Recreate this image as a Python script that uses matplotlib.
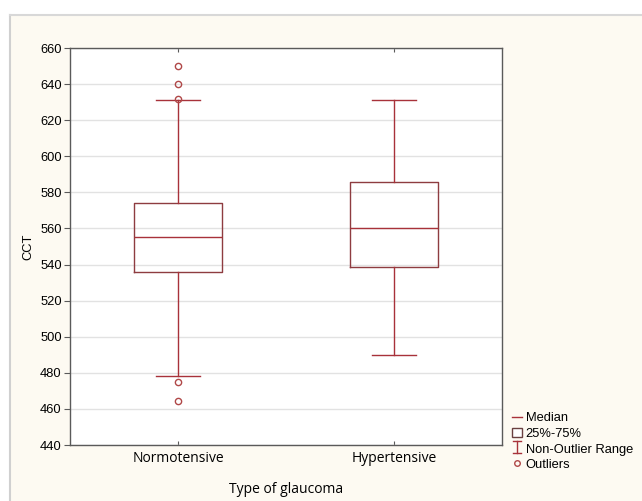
import matplotlib
matplotlib.use("Agg")
import matplotlib.pyplot as plt
from matplotlib.lines import Line2D
from matplotlib.patches import Rectangle
from matplotlib.legend_handler import HandlerBase

# datos
grupos = ["Normotensive", "Hypertensive"]
medianas = [555, 560]
q1 = [536, 538.5]
q3 = [574, 586]
bigote_inf = [478, 490]
bigote_sup = [631, 631]
atipicos = [[650, 640, 632, 475, 464.5], []]

ROJO = "#a8323a"
BORDE = "#8e3c40"
CREMA = "#fdfaf2"


class _HandlerRango(HandlerBase):
    # dibuja el símbolo de rango (bigote con topes)
    def create_artists(self, legend, orig, xd, yd, w, h, fontsize, trans):
        cx = xd + w / 2
        arts = [
            Line2D([cx, cx], [yd - 1, yd + h + 1], color=ROJO, lw=1),
            Line2D([cx - 3, cx + 3], [yd - 1, yd - 1], color=ROJO, lw=1),
            Line2D([cx - 3, cx + 3], [yd + h + 1, yd + h + 1], color=ROJO, lw=1),
        ]
        for a in arts:
            a.set_transform(trans)
        return arts


fig = plt.figure(figsize=(6.42, 5.01), dpi=100)
fig.patch.set_facecolor("white")

# panel crema con sombra
fig.patches.append(Rectangle((10 / 642, 0), 1, (501 - 15) / 501, transform=fig.transFigure,
                             facecolor=CREMA, edgecolor="none", zorder=-2))
fig.add_artist(Line2D([10 / 642, 10 / 642], [0, (501 - 15) / 501], color="#d0d0d0", lw=1.5,
                      transform=fig.transFigure))
fig.add_artist(Line2D([10 / 642, 1], [(501 - 15) / 501] * 2, color="#d8d8d8", lw=1.5,
                      transform=fig.transFigure))

ax = fig.add_axes([70 / 642, 1 - 445 / 501, 432 / 642, 397 / 501])
ax.set_facecolor("white")

stats = []
for i, g in enumerate(grupos):
    stats.append(dict(label=g, med=medianas[i], q1=q1[i], q3=q3[i],
                      whislo=bigote_inf[i], whishi=bigote_sup[i], fliers=atipicos[i]))

ax.bxp(stats, positions=[1, 2], widths=0.41, showfliers=True,
       boxprops=dict(color=BORDE, lw=1),
       medianprops=dict(color=ROJO, lw=1),
       whiskerprops=dict(color=ROJO, lw=1),
       capprops=dict(color=ROJO, lw=1),
       capwidths=0.2,
       flierprops=dict(marker="o", markerfacecolor="none", markeredgecolor="#b04848",
                       markersize=4.5, markeredgewidth=1))

ax.set_xlim(0.5, 2.5)
ax.set_ylim(440, 660)
ax.set_yticks(range(440, 661, 20))
ax.yaxis.grid(True, color="#e2e2e2", lw=1)
ax.set_axisbelow(True)

for s in ax.spines.values():
    s.set_color("#5a5a5a")
    s.set_linewidth(1)

ax.tick_params(axis="y", direction="out", length=4, color="#5a5a5a", labelsize=9.3, pad=2)
ax.tick_params(axis="x", direction="in", length=3, top=True, color="#5a5a5a", pad=4)
for t in ax.get_yticklabels():
    t.set_family("Liberation Sans")
ax.set_xticks([1, 2])
ax.set_xticklabels(grupos, family="Open Sans", fontsize=10)

ax.set_ylabel("CCT", family="Liberation Sans", fontsize=9.3, labelpad=4)
ax.set_xlabel("Type of glaucoma", family="Open Sans", fontsize=10, labelpad=12)

manejadores = [
    Line2D([], [], color=ROJO, lw=1),
    Rectangle((0, 0), 1, 1, facecolor="white", edgecolor="#6a4040", lw=1),
    Line2D([], [], color=ROJO),
    Line2D([], [], ls="none", marker="o", markerfacecolor="none",
           markeredgecolor="#b04848", markersize=4, markeredgewidth=1),
]
etiquetas = ["Median", "25%-75%", "Non-Outlier Range", "Outliers"]
ley = fig.legend(manejadores, etiquetas, loc="upper left",
                 bbox_to_anchor=(503 / 642, 1 - 403 / 501), frameon=False,
                 prop=dict(family="Liberation Sans", size=9.3),
                 handlelength=0.8, handleheight=0.8, handletextpad=0.25,
                 labelspacing=0.24, borderpad=0.2,
                 handler_map={manejadores[2]: _HandlerRango()})

fig.savefig("out.png", dpi=100, facecolor=fig.get_facecolor())
